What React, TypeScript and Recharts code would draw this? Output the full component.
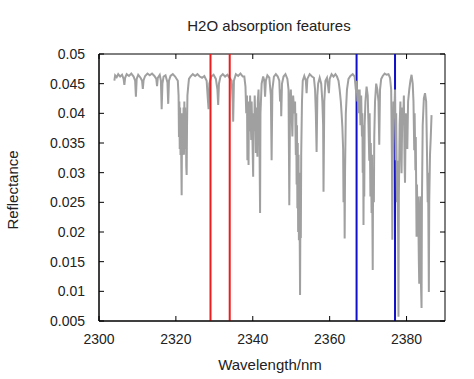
import { LineChart, Line, XAxis, YAxis, ReferenceLine, ReferenceArea } from "recharts"

const wavelength = [
  2304.0, 2304.2, 2304.6, 2305.0, 2305.5, 2306.0, 2306.4, 2306.6, 2306.8, 2307.2,
  2307.8, 2308.4, 2309.0, 2309.4, 2309.6, 2309.8, 2310.2, 2310.8, 2311.2, 2311.4,
  2311.6, 2312.0, 2312.6, 2313.2, 2313.8, 2314.4, 2314.9, 2315.1, 2315.3, 2315.8,
  2316.1, 2316.3, 2316.5, 2316.8, 2317.3, 2317.8, 2318.0, 2318.2, 2318.6, 2319.2,
  2319.8, 2320.2, 2320.5, 2320.7, 2320.8, 2320.9, 2321.0, 2321.1, 2321.2, 2321.3,
  2321.4, 2321.5, 2321.6, 2321.7, 2321.8, 2321.9, 2322.0, 2322.1, 2322.2, 2322.3,
  2322.4, 2322.5, 2322.6, 2322.7, 2322.8, 2322.9, 2323.0, 2323.2, 2323.4, 2323.8,
  2324.4, 2325.0, 2325.6, 2326.2, 2326.8, 2327.4, 2328.0, 2328.3, 2328.5, 2328.7,
  2329.2, 2329.8, 2330.4, 2330.8, 2331.0, 2331.2, 2331.6, 2332.2, 2332.8, 2333.4,
  2333.9, 2334.5, 2334.8, 2334.9, 2335.1, 2335.6, 2336.2, 2336.8, 2337.4, 2337.8,
  2338.1, 2338.3, 2338.5, 2338.6, 2338.7, 2338.9, 2339.0, 2339.2, 2339.3, 2339.5,
  2339.6, 2339.7, 2339.9, 2340.1, 2340.2, 2340.4, 2340.5, 2340.7, 2340.8, 2340.9,
  2341.1, 2341.2, 2341.3, 2341.5, 2341.7, 2341.9, 2342.0, 2342.3, 2342.7, 2343.0,
  2343.2, 2343.4, 2343.8, 2344.3, 2344.7, 2344.9, 2345.1, 2345.5, 2346.0, 2346.5,
  2346.9, 2347.1, 2347.3, 2347.4, 2347.6, 2348.0, 2348.5, 2349.0, 2349.3, 2349.5,
  2349.7, 2349.9, 2350.1, 2350.3, 2350.5, 2350.8, 2351.0, 2351.2, 2351.3, 2351.4,
  2351.5, 2351.6, 2351.7, 2351.8, 2351.9, 2352.0, 2352.1, 2352.2, 2352.3, 2352.4,
  2352.5, 2352.6, 2352.8, 2353.0, 2353.4, 2353.8, 2354.0, 2354.2, 2354.8, 2355.4,
  2355.9, 2356.2, 2356.4, 2356.6, 2356.8, 2357.0, 2357.4, 2357.8, 2358.1, 2358.3,
  2358.4, 2358.6, 2358.9, 2359.3, 2359.6, 2359.8, 2360.0, 2360.5, 2361.0, 2361.5,
  2361.9, 2362.3, 2362.6, 2362.9, 2363.1, 2363.3, 2363.5, 2363.6, 2363.8, 2363.9,
  2364.0, 2364.2, 2364.5, 2364.9, 2365.4, 2366.0, 2366.5, 2366.8, 2367.0, 2367.2,
  2367.4, 2367.6, 2367.8, 2368.0, 2368.2, 2368.4, 2368.5, 2368.6, 2368.7, 2368.8,
  2368.9, 2369.0, 2369.1, 2369.3, 2369.6, 2369.9, 2370.1, 2370.3, 2370.4, 2370.6,
  2370.7, 2370.9, 2371.0, 2371.2, 2371.3, 2371.5, 2371.6, 2371.8, 2372.1, 2372.4,
  2372.7, 2372.9, 2373.1, 2373.4, 2373.8, 2374.3, 2374.8, 2375.3, 2375.7, 2376.0,
  2376.2, 2376.3, 2376.4, 2376.6, 2376.8, 2377.0, 2377.2, 2377.3, 2377.5, 2377.6,
  2377.8, 2377.9, 2378.0, 2378.2, 2378.4, 2378.6, 2378.7, 2378.9, 2379.1, 2379.3,
  2379.5, 2379.6, 2379.8, 2380.0, 2380.2, 2380.4, 2380.7, 2381.0, 2381.3, 2381.6,
  2381.8, 2382.0, 2382.1, 2382.3, 2382.4, 2382.6, 2382.7, 2382.9, 2383.0, 2383.2,
  2383.3, 2383.4, 2383.6, 2383.7, 2383.9, 2384.0, 2384.2, 2384.5, 2384.8, 2385.1,
  2385.3, 2385.5, 2385.6, 2385.8, 2385.9, 2386.1, 2386.3, 2386.5,
]

const reflectance = [
  0.0455, 0.0464, 0.0461, 0.0466, 0.0462, 0.0465, 0.0458, 0.0448, 0.046, 0.0466,
  0.0463, 0.0467, 0.0462, 0.0455, 0.0428, 0.0458, 0.0465, 0.046, 0.0455, 0.0441,
  0.0456, 0.0463, 0.0467, 0.0464, 0.0467, 0.0463, 0.0458, 0.0446, 0.046, 0.0465,
  0.0455, 0.0407, 0.045, 0.0462, 0.0464, 0.0452, 0.0416, 0.0455, 0.0463, 0.0466,
  0.0462, 0.0458, 0.0455, 0.043, 0.036, 0.042, 0.034, 0.041, 0.033, 0.04,
  0.032, 0.0262, 0.038, 0.033, 0.04, 0.034, 0.041, 0.033, 0.042, 0.035,
  0.041, 0.034, 0.04, 0.031, 0.0296, 0.038, 0.043, 0.0445, 0.0458, 0.0462,
  0.0466, 0.0463, 0.0466, 0.0462, 0.046, 0.0463, 0.0455, 0.0425, 0.0407, 0.045,
  0.0462, 0.0465, 0.0458, 0.044, 0.0414, 0.045, 0.0462, 0.0466, 0.0462, 0.0465,
  0.046, 0.0455, 0.042, 0.0386, 0.0455, 0.0466, 0.0463, 0.0467, 0.0462, 0.0462,
  0.0445, 0.04, 0.043, 0.0321, 0.042, 0.0313, 0.042, 0.037, 0.043, 0.038,
  0.0355, 0.042, 0.036, 0.0293, 0.04, 0.037, 0.043, 0.038, 0.0333, 0.041,
  0.037, 0.0327, 0.042, 0.044, 0.038, 0.0232, 0.04, 0.045, 0.0462, 0.0455,
  0.0428, 0.0455, 0.0464, 0.046, 0.043, 0.0321, 0.044, 0.0462, 0.0466, 0.0462,
  0.0455, 0.042, 0.044, 0.0395, 0.045, 0.0462, 0.0466, 0.0458, 0.044, 0.0245,
  0.042, 0.044, 0.04, 0.0361, 0.043, 0.04, 0.042, 0.033, 0.04, 0.028,
  0.038, 0.024, 0.035, 0.02, 0.033, 0.0186, 0.03, 0.02, 0.0094, 0.025,
  0.019, 0.033, 0.042, 0.0455, 0.0463, 0.0455, 0.0434, 0.0458, 0.0466, 0.0462,
  0.046, 0.044, 0.04, 0.0335, 0.043, 0.045, 0.046, 0.045, 0.042, 0.038,
  0.0268, 0.042, 0.0455, 0.046, 0.0445, 0.0434, 0.0458, 0.0466, 0.0462, 0.0466,
  0.0462, 0.0455, 0.044, 0.042, 0.04, 0.0377, 0.034, 0.025, 0.032, 0.0189,
  0.03, 0.04, 0.044, 0.0458, 0.0463, 0.0466, 0.0462, 0.044, 0.0455, 0.042,
  0.044, 0.04, 0.044, 0.038, 0.043, 0.0361, 0.04, 0.03, 0.038, 0.0212,
  0.035, 0.026, 0.038, 0.042, 0.0445, 0.043, 0.038, 0.032, 0.04, 0.026,
  0.035, 0.0232, 0.033, 0.0136, 0.03, 0.025, 0.036, 0.042, 0.045, 0.044,
  0.042, 0.0347, 0.044, 0.0458, 0.0463, 0.0467, 0.0465, 0.0466, 0.046, 0.044,
  0.032, 0.0187, 0.03, 0.042, 0.04, 0.044, 0.0321, 0.04, 0.025, 0.032,
  0.0198, 0.0057, 0.026, 0.038, 0.042, 0.033, 0.0299, 0.041, 0.038, 0.043,
  0.031, 0.0283, 0.04, 0.038, 0.034, 0.042, 0.044, 0.0455, 0.0465, 0.045,
  0.042, 0.0338, 0.04, 0.0304, 0.036, 0.0192, 0.028, 0.02, 0.026, 0.015,
  0.0113, 0.022, 0.026, 0.0125, 0.0072, 0.025, 0.038, 0.0425, 0.0434, 0.042,
  0.034, 0.025, 0.03, 0.0099, 0.025, 0.033, 0.036, 0.0397,
]

const redLines = [2329, 2334]
const blueLines = [2367, 2377]
const xTicks = [2300, 2320, 2340, 2360, 2380]
const yTicks = [0.005, 0.01, 0.015, 0.02, 0.025, 0.03, 0.035, 0.04, 0.045, 0.05]

const data = wavelength.map((w, i) => ({ w, r: reflectance[i] }))

const FONT = "'Liberation Sans', Arial, sans-serif"
const PLOT = { left: 99, right: 445, top: 54, bottom: 321 }

const XTick = ({ x, payload }: any) => (
  <g>
    <line x1={x} x2={x} y1={PLOT.bottom} y2={PLOT.bottom - 5} stroke="#000" />
    <line x1={x} x2={x} y1={PLOT.top} y2={PLOT.top + 5} stroke="#000" />
    <text x={x} y={344} textAnchor="middle" fontSize={14} fontFamily={FONT} fill="#222">
      {payload.value}
    </text>
  </g>
)

const YTick = ({ y, payload }: any) => (
  <g>
    <line x1={PLOT.left} x2={PLOT.left + 5} y1={y} y2={y} stroke="#000" />
    <line x1={PLOT.right} x2={PLOT.right - 5} y1={y} y2={y} stroke="#000" />
    <text x={85} y={y} dy="0.35em" textAnchor="end" fontSize={14} fontFamily={FONT} fill="#222">
      {Number(payload.value.toFixed(3)).toString()}
    </text>
  </g>
)

export default function App() {
  return (
    <div style={{ position: "absolute", left: 0, top: 0, width: 474, height: 379, background: "#fff" }}>
      <div
        style={{
          position: "absolute",
          left: 169,
          top: 17,
          width: 200,
          textAlign: "center",
          fontFamily: FONT,
          fontSize: 15,
          lineHeight: "17px",
          color: "#222",
        }}
      >
        H2O absorption features
      </div>
      <LineChart
        width={474}
        height={379}
        data={data}
        margin={{ top: 54, right: 29, bottom: 28, left: 39 }}
      >
        <XAxis
          dataKey="w"
          type="number"
          domain={[2300, 2390]}
          ticks={xTicks}
          tick={<XTick />}
          tickLine={false}
          axisLine={{ stroke: "#000" }}
          height={30}
          label={{
            content: () => (
              <text x={270} y={370} textAnchor="middle" fontSize={15} fontFamily={FONT} fill="#222">
                Wavelength/nm
              </text>
            ),
          }}
        />
        <YAxis
          type="number"
          domain={[0.005, 0.05]}
          ticks={yTicks}
          tick={<YTick />}
          tickLine={false}
          axisLine={{ stroke: "#000" }}
          width={60}
          label={{
            content: () => (
              <text
                x={12}
                y={190}
                transform="rotate(-90 12 190)"
                textAnchor="middle"
                dominantBaseline="central"
                fontSize={15}
                fontFamily={FONT}
                fill="#222"
              >
                Reflectance
              </text>
            ),
          }}
        />
        <ReferenceArea x1={2300} x2={2390} y1={0.005} y2={0.05} fill="none" stroke="#000" />
        {blueLines.map((v) => (
          <ReferenceLine key={`b${v}`} x={v} stroke="#1010c8" strokeWidth={2} />
        ))}
        <Line
          type="linear"
          dataKey="r"
          stroke="#a0a0a0"
          strokeWidth={2}
          dot={false}
          isAnimationActive={false}
        />
        {redLines.map((v) => (
          <ReferenceLine key={`r${v}`} x={v} stroke="#ee1c1c" strokeWidth={2} />
        ))}
      </LineChart>
    </div>
  )
}
